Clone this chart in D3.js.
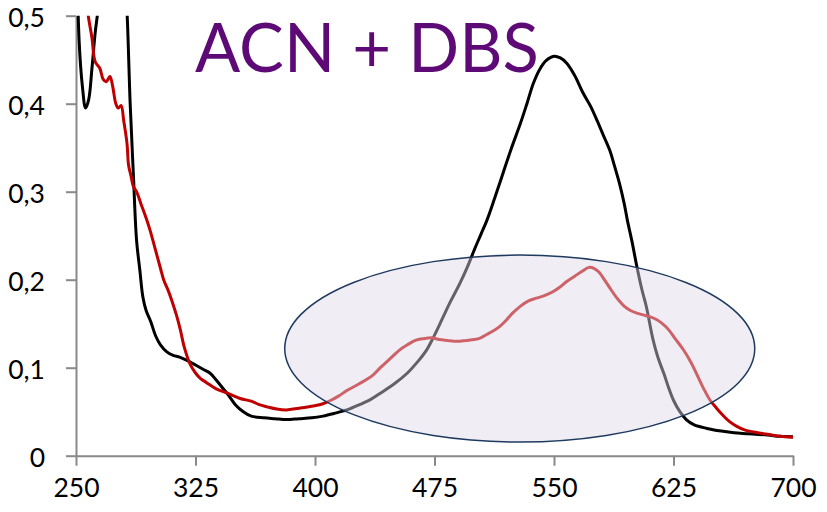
<!DOCTYPE html>
<html><head><meta charset="utf-8">
<script src="https://cdn.jsdelivr.net/npm/d3@7"></script>
<style>html,body{margin:0;padding:0;background:#fff;}svg{display:block;}</style>
</head><body><svg id="c" width="827" height="512"></svg>
<script>
// wavelength (nm) and absorbance, black spectrum
const blackX = [250,252,254,256,258,260,262,264,268,273,278,281,282,284,286,288,290,292,294,297,300,303,307,311,315,320,325,330,334,338,342,346,350,355,360,368,375,382,390,398,405,412,420,428,435,441,450,458,465,470,475,480,485,491,496,500,504,508,513,518,523,529,533,537,541,545,550,554,558,563,568,573,577,581,585,588,591,594,596,599,602,605,608,612,615,619,622,625,629,633,638,646,655,663,672,684,692,700];
const blackY = [0.62,0.47,0.42,0.395,0.405,0.44,0.48,0.51,0.6,0.65,0.6,0.53,0.505,0.40,0.32,0.245,0.212,0.18,0.165,0.152,0.136,0.126,0.118,0.114,0.112,0.108,0.103,0.098,0.094,0.086,0.077,0.068,0.058,0.050,0.045,0.043,0.042,0.041,0.042,0.043,0.045,0.048,0.052,0.058,0.064,0.071,0.082,0.094,0.108,0.120,0.137,0.156,0.175,0.196,0.216,0.234,0.251,0.268,0.294,0.321,0.348,0.378,0.400,0.423,0.439,0.449,0.454,0.452,0.446,0.432,0.413,0.397,0.381,0.364,0.347,0.329,0.310,0.287,0.268,0.243,0.215,0.19,0.169,0.133,0.113,0.093,0.077,0.063,0.050,0.041,0.035,0.031,0.028,0.026,0.025,0.0235,0.022,0.0215];
// red spectrum
const redX = [256,257.7,260,262,265,267,269,271.3,273,275,276.6,278.3,280,282,283,284.5,286,288,291,294,296.5,300,303,305,308,310,313,315.5,318,321.6,325,328,332,338,345,353,360,365,370,376,382,390,399,405,410,415,420,428,436,441,447,453,458,463,468,473,478,483,489,495,500,504,508,512,516,520,524,529,534,539,544,549,554,558,563,568,572,575,578,582,586,590,594,598,602,606,610,614,618,622,626,631,636,640,644,648,652,656,660,665,670,678,685,692,700];
const redY = [0.53,0.50,0.475,0.448,0.44,0.428,0.425,0.431,0.42,0.40,0.395,0.398,0.38,0.355,0.33,0.318,0.306,0.300,0.285,0.27,0.256,0.233,0.213,0.20,0.187,0.177,0.16,0.143,0.123,0.104,0.094,0.088,0.083,0.076,0.071,0.065,0.062,0.058,0.0555,0.053,0.052,0.054,0.0565,0.059,0.063,0.068,0.074,0.082,0.091,0.100,0.110,0.120,0.126,0.131,0.133,0.134,0.132,0.131,0.130,0.131,0.132,0.134,0.138,0.142,0.147,0.154,0.162,0.170,0.176,0.179,0.182,0.186,0.192,0.198,0.204,0.210,0.214,0.213,0.209,0.199,0.188,0.178,0.170,0.165,0.162,0.160,0.158,0.155,0.150,0.143,0.133,0.121,0.106,0.091,0.076,0.063,0.054,0.046,0.039,0.033,0.029,0.026,0.024,0.022,0.021];
const xTicks = [250,325,400,475,550,625,700];
const yTicks = [0,0.1,0.2,0.3,0.4,0.5];
const title = "ACN + DBS";
// highlighted region (annotation ellipse), data units
const ellipseX = [381,676];
const ellipseY = [0.0155,0.228];

const svg = d3.select("#c");
const x = d3.scaleLinear().domain([250,700]).range([76,793]);
const y = d3.scaleLinear().domain([0,0.5]).range([455.7,15.7]);
const loc = d3.formatLocale({decimal:",",thousands:".",grouping:[3],currency:["",""]});
const fy = v => v===0 ? "0" : loc.format(".1f")(v);

svg.append("defs").append("clipPath").attr("id","pc").append("rect")
  .attr("x",x(250)).attr("y",y(0.5)).attr("width",x(700)-x(250)+4).attr("height",y(0)-y(0.5)+2);

const axisCol = "#898989";
const gx = svg.append("g").attr("transform",`translate(0,${y(0)})`)
  .call(d3.axisBottom(x).tickValues(xTicks).tickSize(10).tickPadding(12).tickSizeOuter(0));
const gy = svg.append("g").attr("transform",`translate(${x(250)},0)`)
  .call(d3.axisLeft(y).tickValues(yTicks).tickFormat(fy).tickSize(10).tickPadding(21).tickSizeOuter(0));
[gx,gy].forEach(g=>{
  g.select(".domain").attr("stroke",axisCol).attr("stroke-width",2);
  g.selectAll(".tick line").attr("stroke",axisCol).attr("stroke-width",2);
  g.selectAll(".tick text").attr("fill","#000").style("font-family","Lato, 'Open Sans', sans-serif").style("font-size","26.5px");
});
gy.selectAll(".tick text").attr("dy","0.4em");

const line = (xs,ys) => d3.line().x((d,i)=>x(xs[i])).y((d,i)=>y(ys[i])).curve(d3.curveCatmullRom.alpha(0.5))(xs);
const plot = svg.append("g").attr("clip-path","url(#pc)");
plot.append("path").attr("d",line(blackX,blackY)).attr("fill","none").attr("stroke","#000").attr("stroke-width",3).attr("stroke-linejoin","round");
plot.append("path").attr("d",line(redX,redY)).attr("fill","none").attr("stroke","#c00000").attr("stroke-width",3).attr("stroke-linejoin","round");

svg.append("ellipse")
  .attr("cx",(x(ellipseX[0])+x(ellipseX[1]))/2).attr("cy",(y(ellipseY[0])+y(ellipseY[1]))/2)
  .attr("rx",(x(ellipseX[1])-x(ellipseX[0]))/2).attr("ry",(y(ellipseY[0])-y(ellipseY[1]))/2)
  .attr("fill","rgb(222,218,231)").attr("fill-opacity",0.45)
  .attr("stroke","#1f3a5f").attr("stroke-width",1.5);

svg.append("text").attr("x",195).attr("y",72).text(title)
  .attr("fill","#5d0a77").style("font-family","Lato, sans-serif").style("font-size","67px");
</script></body></html>
